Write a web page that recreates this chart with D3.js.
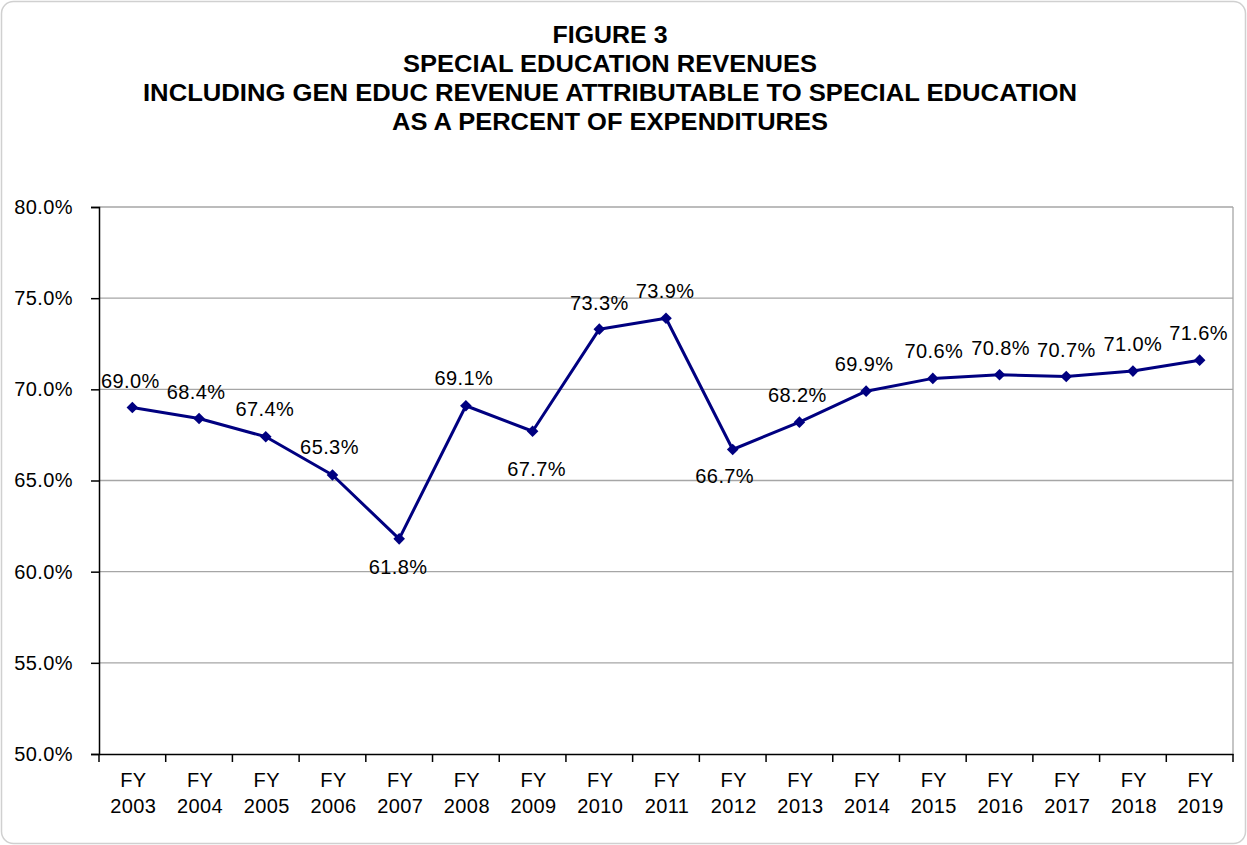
<!DOCTYPE html>
<html><head><meta charset="utf-8">
<script src="https://cdn.jsdelivr.net/npm/d3@7"></script>
<style>body{margin:0;background:#fff;} svg{display:block;}</style>
</head><body>
<svg id="chart" width="1247" height="845"></svg>
<script>
const categories = ["2003","2004","2005","2006","2007","2008","2009","2010","2011","2012","2013","2014","2015","2016","2017","2018","2019"];
const values = [69.0,68.4,67.4,65.3,61.8,69.1,67.7,73.3,73.9,66.7,68.2,69.9,70.6,70.8,70.7,71.0,71.6];
const yTicks = [50,55,60,65,70,75,80];
const titleLines = ["FIGURE 3","SPECIAL  EDUCATION  REVENUES","INCLUDING  GEN EDUC REVENUE ATTRIBUTABLE  TO SPECIAL EDUCATION","AS A PERCENT OF EXPENDITURES"];
// label placement offsets (dx, dy) relative to point
const labelOffsets = [[-2,-27],[-3,-27],[-1,-28],[-3,-28],[-1,28],[-2,-28],[4,38],[0,-26],[-1,-27],[-8,26],[-2,-27],[-2,-27],[1,-27],[1,-27],[0,-27],[0,-27],[-1,-27]];

const svg = d3.select("#chart");
const W = 1247, H = 845;
const m = {l:99, r:1233, t:207, b:754};

svg.append("rect").attr("x",1.5).attr("y",1.5).attr("width",W-3).attr("height",H-3)
  .attr("rx",12).attr("fill","#fff").attr("stroke","#d0d0d0").attr("stroke-width",1.5);

const font = "'Liberation Sans', Arial, sans-serif";
const titleWidths = [115,414,934,436];
const titleY = [43,72,101,130];
titleLines.forEach((t,i)=>{
  svg.append("text").attr("x",610).attr("y",titleY[i]).attr("text-anchor","middle")
    .attr("font-family",font).attr("font-weight","bold").attr("font-size",23)
    .attr("textLength",titleWidths[i]).attr("lengthAdjust","spacingAndGlyphs")
    .attr("fill","#000").text(t);
});

const x = d3.scaleBand().domain(categories).range([m.l,m.r]);
const y = d3.scaleLinear().domain([50,80]).range([m.b,m.t]);

// gridlines
svg.append("g").selectAll("line").data(yTicks.filter(d=>d>50)).join("line")
  .attr("x1",m.l).attr("x2",m.r).attr("y1",d=>y(d)).attr("y2",d=>y(d))
  .attr("stroke","#a6a6a6").attr("stroke-width",1.3);
// right border
svg.append("line").attr("x1",m.r).attr("x2",m.r).attr("y1",m.t).attr("y2",m.b)
  .attr("stroke","#a6a6a6").attr("stroke-width",1.3);

// y axis
const yAxis = d3.axisLeft(y).tickValues(yTicks).tickSize(8).tickPadding(12).tickFormat(d=>d.toFixed(1)+"%");
const gy = svg.append("g").attr("transform",`translate(${m.l},0)`).call(yAxis);
gy.select(".domain").attr("stroke","#000").attr("stroke-width",1.5);
gy.selectAll(".tick line").attr("stroke","#000").attr("stroke-width",1.5);
gy.selectAll(".tick text").attr("font-family",font).attr("font-size",20).attr("letter-spacing",0.4).attr("fill","#000").attr("dx",-6);

// x axis
const xAxis = d3.axisBottom(x).tickSize(0).tickFormat("");
const gx = svg.append("g").attr("transform",`translate(0,${m.b})`).call(xAxis);
gx.select(".domain").attr("stroke","#000").attr("stroke-width",1.5);
const bounds = categories.map(c=>x(c)).concat([m.r]);
gx.selectAll(".bt").data(bounds).join("line").attr("class","bt")
  .attr("x1",d=>d).attr("x2",d=>d).attr("y1",0).attr("y2",8).attr("stroke","#000").attr("stroke-width",1.5);
const xl = svg.append("g").selectAll("text").data(categories).join("text")
  .attr("x",d=>x(d)+x.bandwidth()/2+1).attr("text-anchor","middle")
  .attr("font-family",font).attr("font-size",20).attr("letter-spacing",0.4).attr("fill","#000");
xl.append("tspan").attr("x",d=>x(d)+x.bandwidth()/2+1).attr("y",787).text("FY");
xl.append("tspan").attr("x",d=>x(d)+x.bandwidth()/2+1).attr("y",813).text(d=>d);

// line
const cx = d=>x(d)+x.bandwidth()/2;
const line = d3.line().x((d,i)=>cx(categories[i])).y(d=>y(d));
svg.append("path").datum(values).attr("d",line).attr("fill","none")
  .attr("stroke","#000080").attr("stroke-width",3).attr("stroke-linejoin","round");

// markers
svg.append("g").selectAll("path").data(values).join("path")
  .attr("transform",(d,i)=>`translate(${cx(categories[i])},${y(d)})`)
  .attr("d","M0,-5.8L5.8,0L0,5.8L-5.8,0Z").attr("fill","#000080");

// labels
svg.append("g").selectAll("text").data(values).join("text")
  .attr("x",(d,i)=>cx(categories[i])+labelOffsets[i][0])
  .attr("y",(d,i)=>y(d)+labelOffsets[i][1])
  .attr("dy","0.35em").attr("text-anchor","middle")
  .attr("font-family",font).attr("font-size",20).attr("letter-spacing",0.4).attr("fill","#000")
  .text(d=>d.toFixed(1)+"%");
</script>
</body></html>
